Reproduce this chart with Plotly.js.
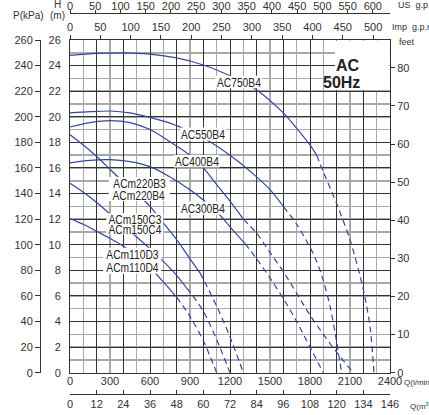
<!DOCTYPE html>
<html><head><meta charset="utf-8">
<script src="https://cdn.plot.ly/plotly-3.0.1.min.js"></script>
<style>html,body{margin:0;padding:0;background:#fff;}#chart{width:429px;height:415px;}</style>
</head><body><div id="chart"></div>
<script>
// ---- data (Q in l/min, H in m) ----
const curveNames = ['AC750B4','AC550B4','AC400B4','AC300B4','ACm220B3','ACm150C3','ACm110D3'];

const q_ac750 = [0,200,400,600,800,1000,1200,1400,1600,1700,1800,1850];
const h_ac750 = [24.8,24.95,25.0,24.9,24.6,24.05,23.2,22.1,20.3,19.1,17.8,17.0];
const q_ac750_ext = [1850,1900,2000,2100,2200,2250,2280];
const h_ac750_ext = [17.0,15.7,13.2,10.4,6.5,3.6,0];

const q_ac550 = [0,150,300,450,600,750,900,1050,1250,1400,1500,1600];
const h_ac550 = [20.3,20.4,20.45,20.3,19.95,19.5,18.85,18.05,16.6,15.3,14.3,13.0];
const q_ac550_ext = [1600,1700,1800,1850,1900,1950,2000,2037];
const h_ac550_ext = [13.0,11.6,9.8,8.7,7.2,5.2,2.4,0];

const q_ac400 = [0,150,300,450,600,750,900,1000,1100,1200,1300];
const h_ac400 = [19.2,19.55,19.7,19.55,19.0,18.05,17.0,16.0,14.7,13.4,12.0];
const q_ac400_ext = [1300,1400,1500,1600,1700,1800,1900,2000,2125];
const h_ac400_ext = [12.0,10.9,9.4,7.9,6.2,4.5,3.0,1.6,0];

const q_ac300 = [0,150,300,450,600,750,900,1000,1100,1200,1312];
const h_ac300 = [16.4,16.6,16.65,16.5,16.1,15.3,14.3,13.5,12.6,11.4,10.1];
const q_ac300_ext = [1312,1400,1500,1600,1700,1800,1900];
const h_ac300_ext = [10.1,8.9,7.4,5.8,4.0,2.0,0];

const q_acm220 = [0,100,200,300,400,500,600,700,800,900,975];
const h_acm220 = [18.6,17.8,16.9,15.9,14.9,14.0,13.0,11.7,10.4,8.9,7.8];
const q_acm220_ext = [975,1000,1100,1200,1300];
const h_acm220_ext = [7.8,7.3,5.2,2.8,0];

const q_acm150 = [0,100,200,300,400,500,600,700,800,875];
const h_acm150 = [14.8,14.1,13.3,12.4,11.5,10.6,9.7,8.7,7.6,6.6];
const q_acm150_ext = [875,900,1000,1100,1200];
const h_acm150_ext = [6.6,6.3,4.8,2.6,0];

const q_acm110 = [0,100,200,300,400,500,600,700,800];
const h_acm110 = [12.05,11.6,11.05,10.5,9.9,9.1,8.2,7.1,5.9];
const q_acm110_ext = [800,900,1000,1100];
const h_acm110_ext = [5.9,4.4,2.5,0];

// tick labels
const lpmTicks = [0,300,600,900,1200,1500,1800,2100,2400];
const m3hTicks = [0,12,24,36,48,60,72,84,96,108,120,132,144];
const m3hLabels = ['0','12','24','36','48','60','72','84','96','108','120','134','146'];
const usTicks = [0,50,100,150,200,250,300,350,400,450,500,550,600];
const impTicks = [0,50,100,150,200,250,300,350,400,450,500];
const hTicks = [0,2,4,6,8,10,12,14,16,18,20,22,24,26];
const kpaTicks = [0,20,40,60,80,100,120,140,160,180,200,220,240,260];
const feetTicks = [0,10,20,30,40,50,60,70,80];

// curve labels
const labelTexts = ['AC750B4','AC550B4','AC400B4','AC300B4','ACm220B3','ACm220B4','ACm150C3','ACm150C4','ACm110D3','ACm110D4'];

// ---- drawing ----
const BLUE = '#34489b', DARK = '#333', GRAY = '#a9a9a9';
const FONT = 'Liberation Sans, Arial, sans-serif';

const solid = [[q_ac750,h_ac750],[q_ac550,h_ac550],[q_ac400,h_ac400],[q_ac300,h_ac300],[q_acm220,h_acm220],[q_acm150,h_acm150],[q_acm110,h_acm110]];
const ext = [[q_ac750_ext,h_ac750_ext],[q_ac550_ext,h_ac550_ext],[q_ac400_ext,h_ac400_ext],[q_ac300_ext,h_ac300_ext],[q_acm220_ext,h_acm220_ext],[q_acm150_ext,h_acm150_ext],[q_acm110_ext,h_acm110_ext]];

const traces = [];
solid.forEach((s,i)=>traces.push({x:s[0],y:s[1],name:curveNames[i],type:'scatter',mode:'lines',line:{color:BLUE,width:1.2,shape:'spline',smoothing:0.8},hoverinfo:'skip'}));
ext.forEach((s,i)=>traces.push({x:s[0],y:s[1],name:curveNames[i]+' ext',type:'scatter',mode:'lines',line:{color:BLUE,width:1.2,dash:'6px,4px',shape:'spline',smoothing:0.8},hoverinfo:'skip'}));

const xDom = [30/350, 1];
const yDom = [(394-372.7)/381, (394-40)/381];
const px = x => (x-40)/350;
const py = y => (394-y)/381;
const qOf = x => (x-70)*7.5;
const hOf = y => (372.7-y)/12.8;

// label centre and white box (pixels): [cx, cy, boxW, boxH]
const labelBox = [[238.5,82,47,12.5],[203.3,134,46,13],[196.8,161.3,46,12.5],[202.8,208,45,13],
                  [139.2,183.3,61,12.5],[139.2,194.7,61,12.5],[134.8,218.8,57,11],[134.8,229,57,11],
                  [132.2,254.2,58,13],[132.2,267.2,58,13]];

const shapes = labelBox.map(b=>({type:'rect',xref:'x',yref:'y',x0:qOf(b[0]-b[2]/2),x1:qOf(b[0]+b[2]/2),y0:hOf(b[1]+b[3]/2),y1:hOf(b[1]-b[3]/2),fillcolor:'#fff',line:{width:0},layer:'above'}));
shapes.push({type:'rect',xref:'paper',yref:'paper',x0:px(335),x1:px(389.5),y0:py(90),y1:py(40.5),fillcolor:'#fff',line:{width:0},layer:'above'});

const annotations = labelTexts.map((t,i)=>({x:qOf(labelBox[i][0]),y:hOf(labelBox[i][1]+0.5),xref:'x',yref:'y',text:t,showarrow:false,borderpad:0,font:{family:FONT,size:13.5,color:'#222'}}));

const small = (text,x,y,anchor,size)=>({text:text,x:px(x),y:py(y),xref:'paper',yref:'paper',showarrow:false,xanchor:anchor||'center',yanchor:'middle',font:{family:FONT,size:size||9,color:'#333'}});
annotations.push(small('P(kPa)',28,16,'center',10));
annotations.push(small('H',57.3,5,'center',10));
annotations.push(small('(m)',57.3,16,'center',10));
annotations.push(small('feet',397,42,'left',9));
annotations.push(small('US  g.p.m',396,5,'left',9));
annotations.push(small('Imp  g.p.m',390,27,'left',9));
annotations.push(small('Q(l/min)',402,382,'left',8));
annotations.push(small('Q(m<sup>3</sup>/h)',408,406,'left',8));
annotations.push({text:'<b>AC</b>',x:px(362),y:py(55),xref:'paper',yref:'paper',showarrow:false,font:{family:FONT,size:16,color:'#222'}});
annotations.push({text:'<b>50Hz</b>',x:px(362),y:py(72),xref:'paper',yref:'paper',showarrow:false,font:{family:FONT,size:16,color:'#222'}});

const baseAx = {showgrid:false,zeroline:false,fixedrange:true,tickfont:{family:FONT,size:11,color:'#333'},linecolor:DARK,tickcolor:DARK};

const layout = {
  width:429,height:415,margin:{l:40,r:39,t:13,b:21,pad:0},
  paper_bgcolor:'#fff',plot_bgcolor:'#fff',showlegend:false,
  font:{family:FONT,size:11,color:'#333'},
  xaxis:Object.assign({},baseAx,{domain:xDom,range:[0,2400],tick0:0,dtick:200,showgrid:true,gridcolor:DARK,gridwidth:1,
        minor:{dtick:100,tick0:0,showgrid:true,gridcolor:GRAY,gridwidth:1.5,ticks:''},showticklabels:false,ticks:'',showline:true,mirror:true,anchor:'y'}),
  yaxis:Object.assign({},baseAx,{domain:yDom,range:[0,26],tickvals:hTicks,showgrid:true,gridcolor:DARK,gridwidth:1,
        minor:{dtick:1,tick0:0,showgrid:true,gridcolor:GRAY,gridwidth:1.5,ticks:''},ticks:'',ticklabelstandoff:6,showline:true,mirror:true,anchor:'x'}),
  xaxis2:Object.assign({},baseAx,{overlaying:'x',anchor:'y',side:'bottom',range:[0,2400],tickvals:lpmTicks,ticks:'',showline:false}),
  xaxis3:Object.assign({},baseAx,{overlaying:'x',anchor:'free',position:1,side:'top',range:[0,2400/3.785],tickvals:usTicks,ticks:'outside',ticklen:3,ticklabelstandoff:-4,showline:true}),
  xaxis4:Object.assign({},baseAx,{overlaying:'x',anchor:'y',side:'top',range:[0,2400/4.546],tickvals:impTicks,ticks:'outside',ticklen:4,showline:false}),
  xaxis5:Object.assign({},baseAx,{overlaying:'x',anchor:'free',position:0,side:'bottom',range:[0,144],tickvals:m3hTicks,ticktext:m3hLabels,ticks:'inside',ticklen:4,showline:true}),
  yaxis2:Object.assign({},baseAx,{overlaying:'y',anchor:'free',position:0,side:'left',range:[0,260],tickvals:kpaTicks,ticks:'outside',ticklen:5,showline:true}),
  yaxis3:Object.assign({},baseAx,{overlaying:'y',anchor:'x',side:'right',range:[0,87.3],tickvals:feetTicks,ticks:'outside',ticklen:4,showline:true}),
  annotations:annotations,shapes:shapes
};
[['x2','y'],['x3','y'],['x4','y'],['x5','y'],['x','y2'],['x','y3']].forEach(a=>traces.push({x:[],y:[],xaxis:a[0],yaxis:a[1],type:'scatter',mode:'lines',hoverinfo:'skip',showlegend:false}));

Plotly.newPlot('chart',traces,layout,{staticPlot:true,displayModeBar:false}).then(gd=>{
  // condensed look for the curve labels (the original uses a narrow face)
  for(let i=0;i<labelTexts.length;i++){
    const g = gd.querySelector('.annotation[data-index="'+i+'"] .annotation-text-g');
    if(!g) continue;
    const bb = g.getBBox();
    const cx = bb.x + bb.width/2;
    g.setAttribute('transform','translate('+cx+',0) scale(0.76,1) translate('+(-cx)+',0)');
  }
});
</script></body></html>
